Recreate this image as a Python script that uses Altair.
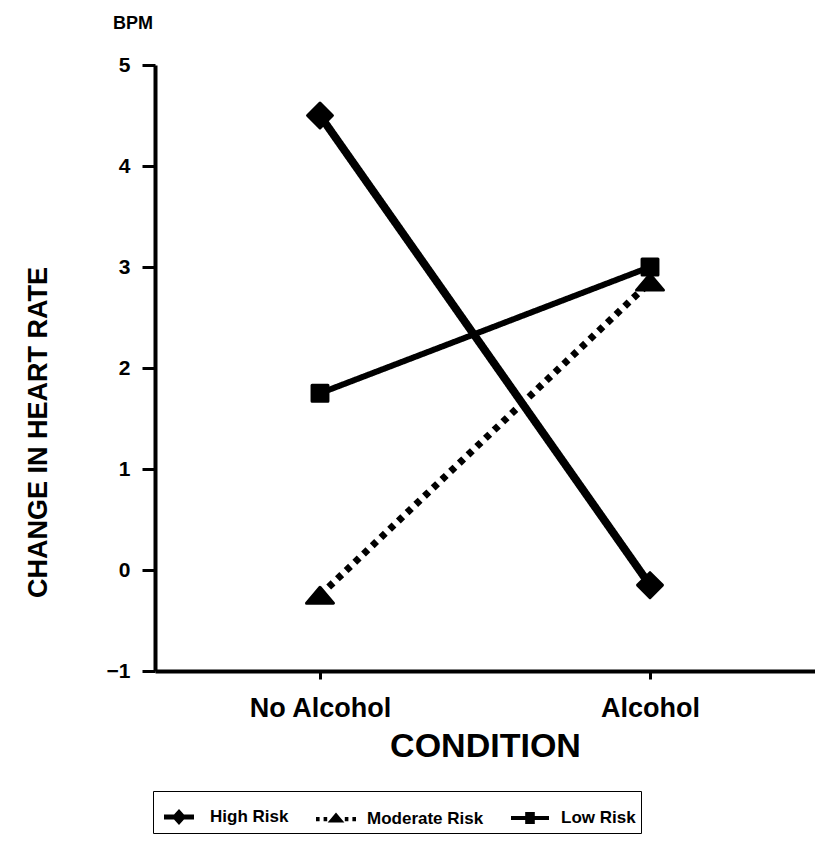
import altair as alt
import pandas as pd

# ---- data ----
conditions = ["No Alcohol", "Alcohol"]
series = ["High Risk", "Moderate Risk", "Low Risk"]
high_risk = [4.5, -0.15]
moderate_risk = [-0.25, 2.85]
low_risk = [1.75, 3.0]
y_ticks = [-1, 0, 1, 2, 3, 4, 5]

rows = []
for name, vals in zip(series, [high_risk, moderate_risk, low_risk]):
    for c, v in zip(conditions, vals):
        rows.append({"condition": c, "value": v, "series": name})
df = pd.DataFrame(rows)

FONT = "Liberation Sans"

# marker shapes (unit-square svg paths)
marker_paths = [
    "M0,-0.83L0.83,0L0,0.83L-0.83,0Z",          # diamond
    "M0,-0.53L0.9,0.53L-0.9,0.53Z",             # triangle
    "M-0.53,-0.53H0.53V0.53H-0.53Z",            # square
]
# legend symbols: line + marker, drawn as filled shapes
legend_paths = [
    "M-0.75,-0.12H0.75V0.12H-0.75Z M0,-0.4L0.36,0L0,0.4L-0.36,0Z",
    "M-1,-0.08H-0.82V0.14H-1Z M-0.62,-0.08H-0.44V0.14H-0.62Z "
    "M0.44,-0.08H0.62V0.14H0.44Z M0.82,-0.08H1V0.14H0.82Z "
    "M0,-0.3L0.42,0.2L-0.42,0.2Z",
    "M-0.95,-0.1H0.95V0.1H-0.95Z M-0.24,-0.3H0.24V0.3H-0.24Z",
]

x_enc = alt.X(
    "condition:N",
    sort=conditions,
    scale=alt.Scale(type="point", padding=0.5),
    axis=alt.Axis(
        title="CONDITION",
        labelAngle=0,
        labelFontSize=27,
        labelFontWeight="bold",
        labelPadding=16,
        tickSize=8,
        tickWidth=3,
        domainWidth=4,
        titleFontSize=34,
        titleFontWeight="bold",
        titlePadding=8,
    ),
)
y_enc = alt.Y(
    "value:Q",
    scale=alt.Scale(domain=[-1, 5], nice=False, zero=False),
    axis=alt.Axis(
        title="CHANGE IN HEART RATE",
        values=y_ticks,
        grid=False,
        labelFontSize=21,
        labelFontWeight="bold",
        labelPadding=12,
        tickSize=13,
        tickWidth=3,
        domainWidth=4,
        titleFontSize=27,
        titleFontWeight="bold",
        titleX=-103,
        titleY=367,
    ),
)

lines = alt.Chart(df).mark_line(color="black").encode(
    x=x_enc,
    y=y_enc,
    detail="series:N",
    strokeDash=alt.StrokeDash(
        "series:N",
        scale=alt.Scale(domain=series, range=[[1, 0], [6, 6], [1, 0]]),
        legend=None,
    ),
    strokeWidth=alt.StrokeWidth(
        "series:N",
        scale=alt.Scale(domain=series, range=[8, 6, 6]),
        legend=None,
    ),
)

points = alt.Chart(df).mark_point(
    filled=True, color="black", stroke="black", strokeWidth=3,
    strokeJoin="round", size=900, opacity=1,
).encode(
    x=x_enc,
    y=y_enc,
    shape=alt.Shape(
        "series:N",
        scale=alt.Scale(domain=series, range=marker_paths),
        legend=None,
    ),
)

legend_layer = alt.Chart(df).mark_point(
    filled=True, color="black", opacity=0, size=10,
).encode(
    x=x_enc,
    y=y_enc,
    shape=alt.Shape(
        "series:N",
        scale=alt.Scale(domain=series, range=legend_paths),
        legend=alt.Legend(
            title=None,
            orient="none",
            legendX=-2,
            legendY=726,
            direction="horizontal",
            symbolSize=1600,
            symbolFillColor="black",
            symbolOpacity=1,
            labelFont=FONT,
            labelFontSize=17,
            labelFontWeight="bold",
            labelColor="black",
            labelOffset=10,
            columnPadding=24,
            strokeColor="black",
            padding=5,
        ),
    ),
)

chart = (
    alt.layer(lines, points, legend_layer)
    .resolve_scale(shape="independent")
    .properties(
        width=660,
        height=606,
        background="white",
        autosize=alt.AutoSizeParams(type="none"),
        padding={"left": 147, "top": 57, "right": 0, "bottom": 165},
        title=alt.TitleParams(
            text="BPM",
            anchor="start",
            frame="group",
            dx=-42,
            offset=21,
            fontSize=18,
            fontWeight="bold",
            font=FONT,
            color="black",
        ),
    )
    .configure_view(strokeWidth=0)
    .configure_axis(
        labelFont=FONT,
        titleFont=FONT,
        labelColor="black",
        titleColor="black",
        domainColor="black",
        tickColor="black",
    )
)

chart.save("out.html", embed_options={"renderer": "svg", "actions": False})
